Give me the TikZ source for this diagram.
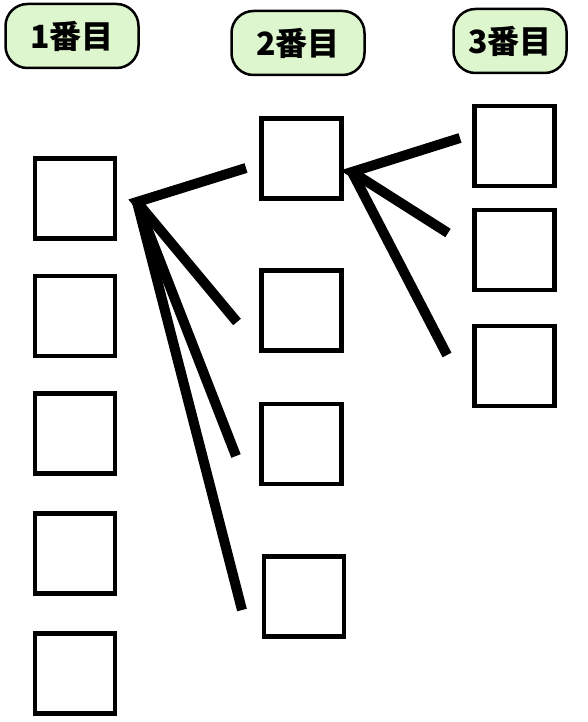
\documentclass[tikz,border=0pt]{standalone}
\usepackage{fontspec}
\newfontfamily\cjk{Noto Sans CJK JP}[BoldFont={Noto Sans CJK JP Black}]
\definecolor{labelgreen}{RGB}{222,246,206}

\begin{document}
\begin{tikzpicture}[x=1pt,y=-1pt,
    sq/.style={rectangle,draw,line width=4.5pt,minimum size=80pt,inner sep=0pt},
    head/.style={rectangle,rounded corners=22pt,draw,line width=2.5pt,fill=labelgreen,inner sep=0pt,font=\cjk\bfseries\fontsize{32}{32}\selectfont},
    fan/.style={line width=10pt}]

    \useasboundingbox (0,0) rectangle (588,722);

    \node[head,minimum width=133pt,minimum height=64pt] (h1) at (72,36) {1番目};
    \node[head,minimum width=133pt,minimum height=64pt] (h2) at (298,43) {2番目};
    \node[head,minimum width=113pt,minimum height=64pt] (h3) at (510,41) {3番目};

    \node[sq] (a1) at (75,198.5) {};
    \node[sq] (a2) at (75,316) {};
    \node[sq] (a3) at (75,433.5) {};
    \node[sq] (a4) at (75,553.5) {};
    \node[sq] (a5) at (75,673.5) {};

    \node[sq] (b1) at (301.5,158.5) {};
    \node[sq] (b2) at (301.5,310.5) {};
    \node[sq] (b3) at (301.5,444) {};
    \node[sq] (b4) at (304,596.5) {};

    \node[sq] (c1) at (514.5,146) {};
    \node[sq] (c2) at (514.5,250) {};
    \node[sq] (c3) at (514.5,366) {};

    \coordinate (p1) at (137,202);
    \coordinate (p2) at (352,172);
    \coordinate (e1) at (246,168);
    \coordinate (e2) at (237,322);
    \coordinate (e3) at (236,456);
    \coordinate (e4) at (242,610);
    \coordinate (f1) at (460,138);
    \coordinate (f2) at (448,233);
    \coordinate (f3) at (447,355);

    \draw[fan] (e1) -- (p1) -- (e2);
    \draw[fan] (p1) -- (e3);
    \draw[fan] (p1) -- (e4);
    \draw[fan] (f1) -- (p2) -- (f2);
    \draw[fan] (p2) -- (f3);
\end{tikzpicture}
\end{document}
